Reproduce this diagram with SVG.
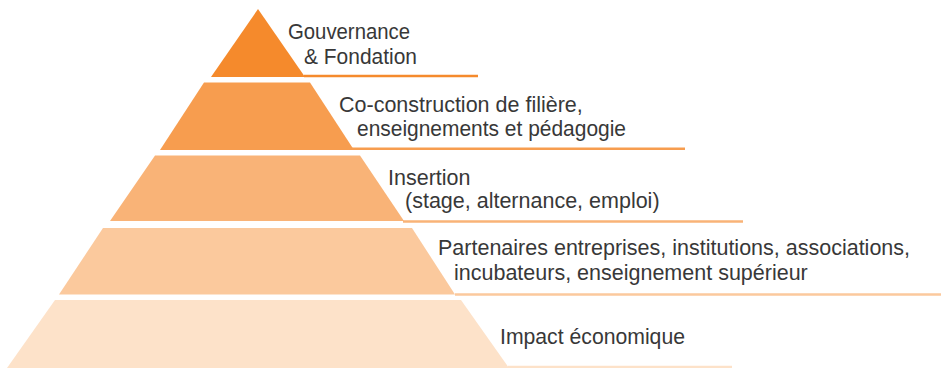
<svg xmlns="http://www.w3.org/2000/svg" width="941" height="368" viewBox="0 0 941 368">
<style>
text{font-family:"Liberation Sans",Arial,sans-serif;font-size:21.5px;fill:#383838}
.u{stroke-width:2.5;fill:none}
</style>
<rect width="941" height="368" fill="#ffffff"/>
<g id="layer1">
<polygon points="258,9 305,77 211,77" fill="#f58a2c"/>
<line class="u" x1="304" y1="76" x2="478" y2="76" stroke="#f58a2c"/>
<text x="288" y="38.5" textLength="122" lengthAdjust="spacingAndGlyphs">Gouvernance</text>
<text x="304" y="63.5" textLength="113" lengthAdjust="spacingAndGlyphs">&amp; Fondation</text>
</g>
<g id="layer2">
<polygon points="204,82.5 310,82.5 354,150 160,150" fill="#f79d4f"/>
<line class="u" x1="352" y1="148.8" x2="685" y2="148.8" stroke="#f79d4f"/>
<text x="339" y="111.5">Co-construction de filière,</text>
<text x="357" y="136" textLength="269" lengthAdjust="spacingAndGlyphs">enseignements et pédagogie</text>
</g>
<g id="layer3">
<polygon points="155,155.5 360,155.5 404,221 110,221" fill="#f9b377"/>
<line class="u" x1="403" y1="221.5" x2="743" y2="221.5" stroke="#f9b377"/>
<text x="388" y="184.5">Insertion</text>
<text x="405" y="208">(stage, alternance, emploi)</text>
</g>
<g id="layer4">
<polygon points="103,228 412,228 455,294.5 59,294.5" fill="#fbc99d"/>
<line class="u" x1="455" y1="294.5" x2="941" y2="294.5" stroke="#fbc99d"/>
<text x="438" y="255">Partenaires entreprises, institutions, associations,</text>
<text x="454" y="279.5">incubateurs, enseignement supérieur</text>
</g>
<g id="layer5">
<polygon points="55,300 461,300 509,368 7,368" fill="#fde2c9"/>
<line class="u" x1="508" y1="367" x2="732" y2="367" stroke="#fde2c9"/>
<text x="500" y="344" textLength="185" lengthAdjust="spacingAndGlyphs">Impact économique</text>
</g>
</svg>
